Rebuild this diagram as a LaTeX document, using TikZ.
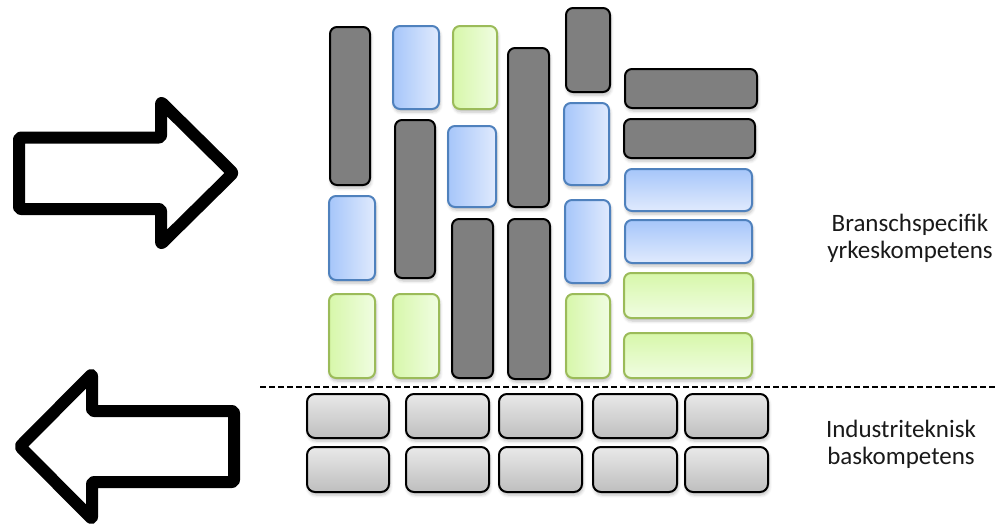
\documentclass[tikz,border=0pt]{standalone}
\usepackage{fontspec}
\setmainfont{Carlito}
\usetikzlibrary{shadows.blur}
\definecolor{darkfill}{RGB}{127,127,127}
\definecolor{blueA}{RGB}{166,198,250}
\definecolor{blueB}{RGB}{224,234,253}
\definecolor{blueline}{RGB}{79,129,189}
\definecolor{greenA}{RGB}{215,247,170}
\definecolor{greenB}{RGB}{240,253,226}
\definecolor{greenline}{RGB}{155,187,89}
\definecolor{grayA}{RGB}{233,233,233}
\definecolor{grayB}{RGB}{190,190,190}
\tikzset{
  shad/.style={blur shadow={shadow xshift=1pt, shadow yshift=-3pt, shadow blur steps=5, shadow opacity=25, shadow blur radius=3pt}},
  darkbox/.style={shad, draw=black, line width=2pt, fill=darkfill, rounded corners=7pt},
  bluev/.style={shad, draw=blueline, line width=2pt, left color=blueA, right color=blueB, rounded corners=7pt},
  greenv/.style={shad, draw=greenline, line width=2pt, left color=greenA, right color=greenB, rounded corners=7pt},
  blueh/.style={shad, draw=blueline, line width=2pt, top color=blueA, bottom color=blueB, rounded corners=7pt},
  greenh/.style={shad, draw=greenline, line width=2pt, top color=greenA, bottom color=greenB, rounded corners=7pt},
  brick/.style={shad, draw=black, line width=2pt, top color=grayA, bottom color=grayB, rounded corners=8pt},
  bigarrow/.style={shad, draw=black, fill=white, line width=12pt, line join=round, rounded corners=2pt},
  label/.style={font=\fontsize{25}{27}\selectfont, align=center, text=black!90},
}
\begin{document}
\begin{tikzpicture}[x=1pt,y=-1pt]
\useasboundingbox (0,0) rectangle (996,523);
% arrows
\draw[bigarrow] (19,137.5) -- (161,137.5) -- (161,102) -- (233,173) -- (161,244) -- (161,209) -- (19,209) -- cycle;
\draw[bigarrow] (234,411) -- (92,411) -- (92,374) -- (20,446.5) -- (92,519) -- (92,482) -- (234,482) -- cycle;
% column 1
\draw[darkbox] (330,27) rectangle (370,185);
\draw[bluev] (329,196) rectangle (375,280);
\draw[greenv] (329,294) rectangle (375,378);
% column 2
\draw[bluev] (393,26) rectangle (439,109);
\draw[darkbox] (395,120) rectangle (435,278);
\draw[greenv] (393,294) rectangle (439,378);
% column 3
\draw[greenv] (453,26) rectangle (497,109);
\draw[bluev] (448,126) rectangle (496,207);
\draw[darkbox] (452,219) rectangle (493,378);
% column 4
\draw[darkbox] (508,48) rectangle (549,207);
\draw[darkbox] (508,219) rectangle (550,379);
% column 5
\draw[darkbox] (566,8) rectangle (610,92);
\draw[bluev] (564,103) rectangle (609,185);
\draw[bluev] (565,200) rectangle (610,283);
\draw[greenv] (566,294) rectangle (610,378);
% column 6
\draw[darkbox] (625,69) rectangle (757,108);
\draw[darkbox] (624,119) rectangle (755,158);
\draw[blueh] (625,169) rectangle (752,211);
\draw[blueh] (625,220) rectangle (752,263);
\draw[greenh] (624,273) rectangle (753,318);
\draw[greenh] (624,333) rectangle (752,378);
% divider
\draw[line width=2pt, dash pattern=on 6pt off 3pt] (260,387) -- (996,387);
% bricks
\foreach \x/\w in {307/82, 406/83, 499/83, 593/84, 685/83}{
  \draw[brick] (\x,394) rectangle ++(\w,44);
  \draw[brick] (\x,447) rectangle ++(\w,45);
}
% labels
\node[label] (top) at (910,238) {Branschspecifik\\yrkeskompetens};
\node[label] (bot) at (901,444) {Industriteknisk\\baskompetens};
\end{tikzpicture}
\end{document}
